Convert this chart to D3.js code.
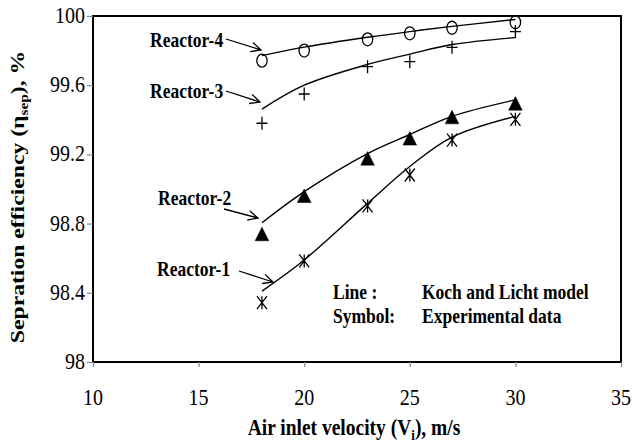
<!DOCTYPE html>
<html>
<head>
<meta charset="utf-8">
<script src="https://cdn.jsdelivr.net/npm/d3@7"></script>
<style>
  html, body { margin: 0; padding: 0; background: #fff; }
  svg { display: block; }
</style>
</head>
<body>
<svg id="chart" width="634" height="442"></svg>
<script>
// Air inlet velocity (m/s) at which efficiency was evaluated
const velocity = [18, 20, 23, 25, 27, 30];

// Koch and Licht model (lines), separation efficiency in %
const modelR1 = [98.41, 98.59, 98.917, 99.13, 99.30, 99.42];
const modelR2 = [98.805, 98.985, 99.205, 99.315, 99.42, 99.515];
const modelR3 = [99.462, 99.60, 99.72, 99.78, 99.835, 99.875];
const modelR4 = [99.771, 99.82, 99.877, 99.91, 99.94, 99.98];

// Experimental data (symbols), separation efficiency in %
const expR1 = [98.343, 98.584, 98.902, 99.081, 99.283, 99.403];
const expR2 = [98.74, 98.961, 99.177, 99.293, 99.416, 99.495];
const expR3 = [99.38, 99.549, 99.707, 99.736, 99.819, 99.91];
const expR4 = [99.742, 99.80, 99.865, 99.90, 99.932, 99.964];

const xTicks = [10, 15, 20, 25, 30, 35];
const yTicks = [98, 98.4, 98.8, 99.2, 99.6, 100];

const reactorNames = ["Reactor-1", "Reactor-2", "Reactor-3", "Reactor-4"];
const legendLines = [["Line :", "Koch and Licht model"], ["Symbol:", "Experimental  data"]];

const svg = d3.select("#chart");
const serif = "'Liberation Serif', 'Times New Roman', serif";
const SY = 1.15; // glyphs are drawn slightly tall and narrow

const x = d3.scaleLinear().domain([10, 35]).range([93, 621]);
const y = d3.scaleLinear().domain([98, 100]).range([362, 16]);

// text helper: positioned group, vertically stretched glyphs
function label(parent, px, py, str, size, weight, anchor) {
  const g = parent.append("g").attr("transform", `translate(${px},${py}) scale(1,${SY})`);
  return g.append("text")
    .attr("font-family", serif)
    .attr("font-size", size)
    .attr("font-weight", weight || "normal")
    .attr("text-anchor", anchor || "start")
    .attr("fill", "#000")
    .text(str);
}

// plot frame
svg.append("rect")
  .attr("x", x(10)).attr("y", y(100))
  .attr("width", x(35) - x(10)).attr("height", y(98) - y(100))
  .attr("fill", "none").attr("stroke", "#000").attr("stroke-width", 2);

// axes
const yAxis = svg.append("g").attr("transform", `translate(${x(10)},0)`)
  .call(d3.axisLeft(y).tickValues(yTicks).tickSize(6).tickFormat(() => ""));
const xAxis = svg.append("g").attr("transform", `translate(0,${y(98)})`)
  .call(d3.axisBottom(x).tickValues(xTicks).tickSize(5).tickFormat(() => ""));
[yAxis, xAxis].forEach(a => {
  a.select(".domain").remove();
  a.selectAll(".tick line").attr("stroke", "#888").attr("stroke-width", 1.2);
});

yTicks.forEach(v => {
  label(svg, 85, y(v) + 7, d3.format("")(v), 20, "normal", "end");
});
xTicks.forEach(v => {
  label(svg, x(v), 405, String(v), 20, "normal", "middle");
});

// axis titles
const xt = label(svg, 354, 435, "", 19.5, "bold", "middle");
xt.append("tspan").text("Air inlet velocity  (V");
xt.append("tspan").attr("font-size", 13).attr("dy", 4).text("i");
xt.append("tspan").attr("dy", -4).text("), m/s");

const ytg = svg.append("g").attr("transform", `translate(24,197) rotate(-90) scale(1.28,1)`);
const yt = ytg.append("text")
  .attr("font-family", serif).attr("font-size", 18.5).attr("font-weight", "bold")
  .attr("text-anchor", "middle").attr("fill", "#000");
yt.append("tspan").text("Sepration efficiency (η");
yt.append("tspan").attr("font-size", 12).attr("dy", 4).text("sep");
yt.append("tspan").attr("dy", -4).text("), %");

// model curves
const line = d3.line()
  .x((d, i) => x(velocity[i]))
  .y(d => y(d))
  .curve(d3.curveCatmullRom.alpha(0.5));

[modelR1, modelR2, modelR3, modelR4].forEach(s => {
  svg.append("path").attr("d", line(s))
    .attr("fill", "none").attr("stroke", "#000").attr("stroke-width", 1.4);
});

// experimental symbols
const mk = svg.append("g").attr("stroke", "#000").attr("stroke-width", 1.3);
// Reactor-4: open circles
expR4.forEach((v, i) => {
  mk.append("ellipse").attr("cx", x(velocity[i])).attr("cy", y(v))
    .attr("rx", 5.2).attr("ry", 6.5).attr("fill", "none");
});
// Reactor-3: plus
expR3.forEach((v, i) => {
  const cx = x(velocity[i]), cy = y(v);
  mk.append("path").attr("d", `M${cx - 5.5},${cy}H${cx + 5.5}M${cx},${cy - 6.5}V${cy + 6.5}`).attr("fill", "none");
});
// Reactor-2: filled triangles
expR2.forEach((v, i) => {
  const cx = x(velocity[i]), cy = y(v);
  mk.append("path").attr("d", `M${cx},${cy - 6.8}L${cx + 6.8},${cy + 6.8}L${cx - 6.8},${cy + 6.8}Z`)
    .attr("fill", "#000").attr("stroke-width", 0.5);
});
// Reactor-1: star (X with vertical bar)
expR1.forEach((v, i) => {
  const cx = x(velocity[i]), cy = y(v);
  mk.append("path")
    .attr("d", `M${cx - 5},${cy - 6.5}L${cx + 5},${cy + 6.5}M${cx - 5},${cy + 6.5}L${cx + 5},${cy - 6.5}M${cx},${cy - 6.5}V${cy + 6.5}`)
    .attr("fill", "none");
});

// reactor labels with arrows pointing to the first model point
const callouts = [
  { name: reactorNames[3], tx: 150, ty: 47, ax: 226, ay: 39, bx: 261, by: 50 },
  { name: reactorNames[2], tx: 150, ty: 98, ax: 226, ay: 91, bx: 260, by: 102 },
  { name: reactorNames[1], tx: 158, ty: 205, ax: 224, ay: 209, bx: 258, by: 218 },
  { name: reactorNames[0], tx: 157, ty: 276, ax: 239, ay: 271, bx: 273, by: 282 }
];
callouts.forEach(c => {
  label(svg, c.tx, c.ty, c.name, 17.5, "bold", "start");
  const ang = Math.atan2(c.by - c.ay, c.bx - c.ax);
  const L = 11, spread = 0.45;
  const p1 = [c.bx - L * Math.cos(ang - spread), c.by - L * Math.sin(ang - spread)];
  const p2 = [c.bx - L * Math.cos(ang + spread), c.by - L * Math.sin(ang + spread)];
  svg.append("path")
    .attr("d", `M${c.ax},${c.ay}L${c.bx},${c.by}M${p1[0]},${p1[1]}L${c.bx},${c.by}L${p2[0]},${p2[1]}`)
    .attr("fill", "none").attr("stroke", "#000").attr("stroke-width", 1.3);
});

// legend text
legendLines.forEach((row, i) => {
  label(svg, 333, 299 + i * 24, row[0], 17.5, "bold", "start");
  label(svg, 422, 299 + i * 24, row[1], 17.5, "bold", "start");
});
</script>
</body>
</html>
